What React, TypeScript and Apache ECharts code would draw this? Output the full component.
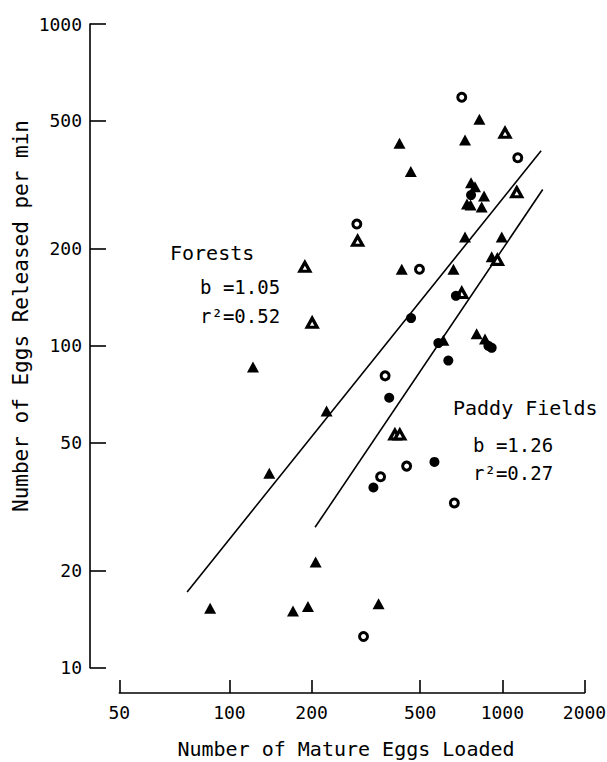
import React, { useEffect, useRef } from "react";
import * as echarts from "echarts";

// Axis ticks (the reference draws its "50" label at the very start of the x axis)
const xAxisStart = 39.5;
const xAxisEnd = 2000;
const xTickValues = [xAxisStart, 100, 200, 500, 1000, 2000];
const xTickLabels = ["50", "100", "200", "500", "1000", "2000"];
const yTickValues = [10, 20, 50, 100, 200, 500, 1000];

// [mature eggs loaded, eggs released per min]
const filledTriangles = [
  [85, 15.3], [122, 86], [140, 40.2], [171, 15.0], [194, 15.5], [207, 21.3],
  [227, 62.8], [352, 15.8], [420, 426], [462, 348], [428, 173], [662, 173],
  [608, 104], [805, 109], [864, 105], [730, 436], [824, 506], [768, 321],
  [794, 312], [857, 292], [742, 276], [765, 274], [840, 270], [730, 218],
  [995, 218], [914, 189],
];
const openTriangles = [
  [189, 176], [201, 118], [295, 212], [1023, 459], [1129, 300], [959, 185],
  [710, 146], [404, 53], [421, 53],
];
const filledCircles = [
  [463, 122], [676, 143], [583, 102], [634, 90], [889, 100], [914, 98.6],
  [385, 69], [768, 294], [337, 36.3], [564, 43.6],
];
const openCircles = [
  [710, 592], [1139, 384], [293, 239], [497, 173], [372, 80.7], [358, 39.2],
  [446, 42.3], [667, 32.5], [310, 12.5],
];
const forestLine = [[70, 17.2], [1387, 404]];
const paddyLine = [[206, 27.3], [1406, 306]];

const forestText = ["Forests", "b =1.05", "r²=0.52"];
const paddyText = ["Paddy Fields", "b =1.26", "r²=0.27"];
const xTitle = "Number of Mature Eggs Loaded";
const yTitle = "Number of Eggs Released per min";

const MONO = '"DejaVu Sans Mono", "Liberation Mono", monospace';

function xLabel(v: number): string {
  let best = 0;
  let bestD = Infinity;
  xTickValues.forEach((t, i) => {
    const d = Math.abs(Math.log10(v) - Math.log10(t));
    if (d < bestD) { bestD = d; best = i; }
  });
  return xTickLabels[best];
}

export default function App() {
  const ref = useRef<HTMLDivElement>(null);
  useEffect(() => {
    document.body.style.margin = "0";
    if (!ref.current) return;
    const chart = echarts.init(ref.current, null, { renderer: "svg" });
    const axisLine = { show: true, lineStyle: { color: "#000", width: 1.6 } };
    const txt = (x: number, y: number, text: string, size: number, extra: any = {}) => ({
      type: "text",
      x,
      y,
      silent: true,
      ...extra,
      style: {
        text,
        fontSize: size,
        fontFamily: MONO,
        fill: "#000",
        align: extra.align || "left",
        verticalAlign: "middle",
      },
    });
    chart.setOption({
      animation: false,
      backgroundColor: "#fff",
      grid: {
        left: 119.3,
        right: 22.5,
        top: 24,
        bottom: 94.3,
        containLabel: false,
        outerBoundsMode: "none",
      },
      xAxis: {
        type: "log",
        logBase: 10,
        min: xAxisStart,
        max: xAxisEnd,
        offset: 25.3,
        axisLine,
        axisTick: {
          show: true,
          inside: true,
          length: 13,
          customValues: xTickValues,
          lineStyle: { color: "#000", width: 1.6 },
        },
        axisLabel: {
          customValues: xTickValues,
          formatter: (v: number) => xLabel(v),
          color: "#000",
          fontFamily: MONO,
          fontSize: 18,
          margin: 10,
        },
        splitLine: { show: false },
        minorTick: { show: false },
      },
      yAxis: {
        type: "log",
        logBase: 10,
        min: 10,
        max: 1000,
        offset: 29.3,
        axisLine,
        axisTick: {
          show: true,
          inside: true,
          length: 16,
          customValues: yTickValues,
          lineStyle: { color: "#000", width: 1.6 },
        },
        axisLabel: {
          customValues: yTickValues,
          formatter: (v: number) => String(Math.round(v)),
          color: "#000",
          fontFamily: MONO,
          fontSize: 18,
          margin: 8,
        },
        splitLine: { show: false },
        minorTick: { show: false },
      },
      series: [
        {
          type: "line",
          data: forestLine,
          symbol: "none",
          lineStyle: { color: "#000", width: 1.6 },
          z: 1,
        },
        {
          type: "line",
          data: paddyLine,
          symbol: "none",
          lineStyle: { color: "#000", width: 1.6 },
          z: 1,
        },
        {
          type: "scatter",
          name: "filledTriangles",
          data: filledTriangles,
          symbol: "triangle",
          symbolSize: [12, 11],
          itemStyle: { color: "#000", opacity: 1 },
          z: 3,
        },
        {
          type: "scatter",
          name: "openTriangles",
          data: openTriangles,
          symbol: "triangle",
          symbolSize: [10, 9],
          itemStyle: { color: "#fff", borderColor: "#000", borderWidth: 3.2, opacity: 1 },
          z: 3,
        },
        {
          type: "scatter",
          name: "filledCircles",
          data: filledCircles,
          symbol: "circle",
          symbolSize: 10,
          itemStyle: { color: "#000", opacity: 1 },
          z: 3,
        },
        {
          type: "scatter",
          name: "openCircles",
          data: openCircles,
          symbol: "circle",
          symbolSize: 8,
          itemStyle: { color: "#fff", borderColor: "#000", borderWidth: 3, opacity: 1 },
          z: 3,
        },
      ],
      graphic: [
        txt(170, 253, forestText[0], 20),
        txt(200, 287, forestText[1], 19),
        txt(200, 316, forestText[2], 19),
        txt(453, 408, paddyText[0], 20),
        txt(473, 445, paddyText[1], 19),
        txt(473, 473, paddyText[2], 19),
        txt(346, 749, xTitle, 20, { align: "center" }),
        txt(21, 316, yTitle, 21, { align: "center", rotation: Math.PI / 2 }),
      ],
    });
    return () => chart.dispose();
  }, []);
  return <div ref={ref} style={{ width: 607, height: 762 }} />;
}
